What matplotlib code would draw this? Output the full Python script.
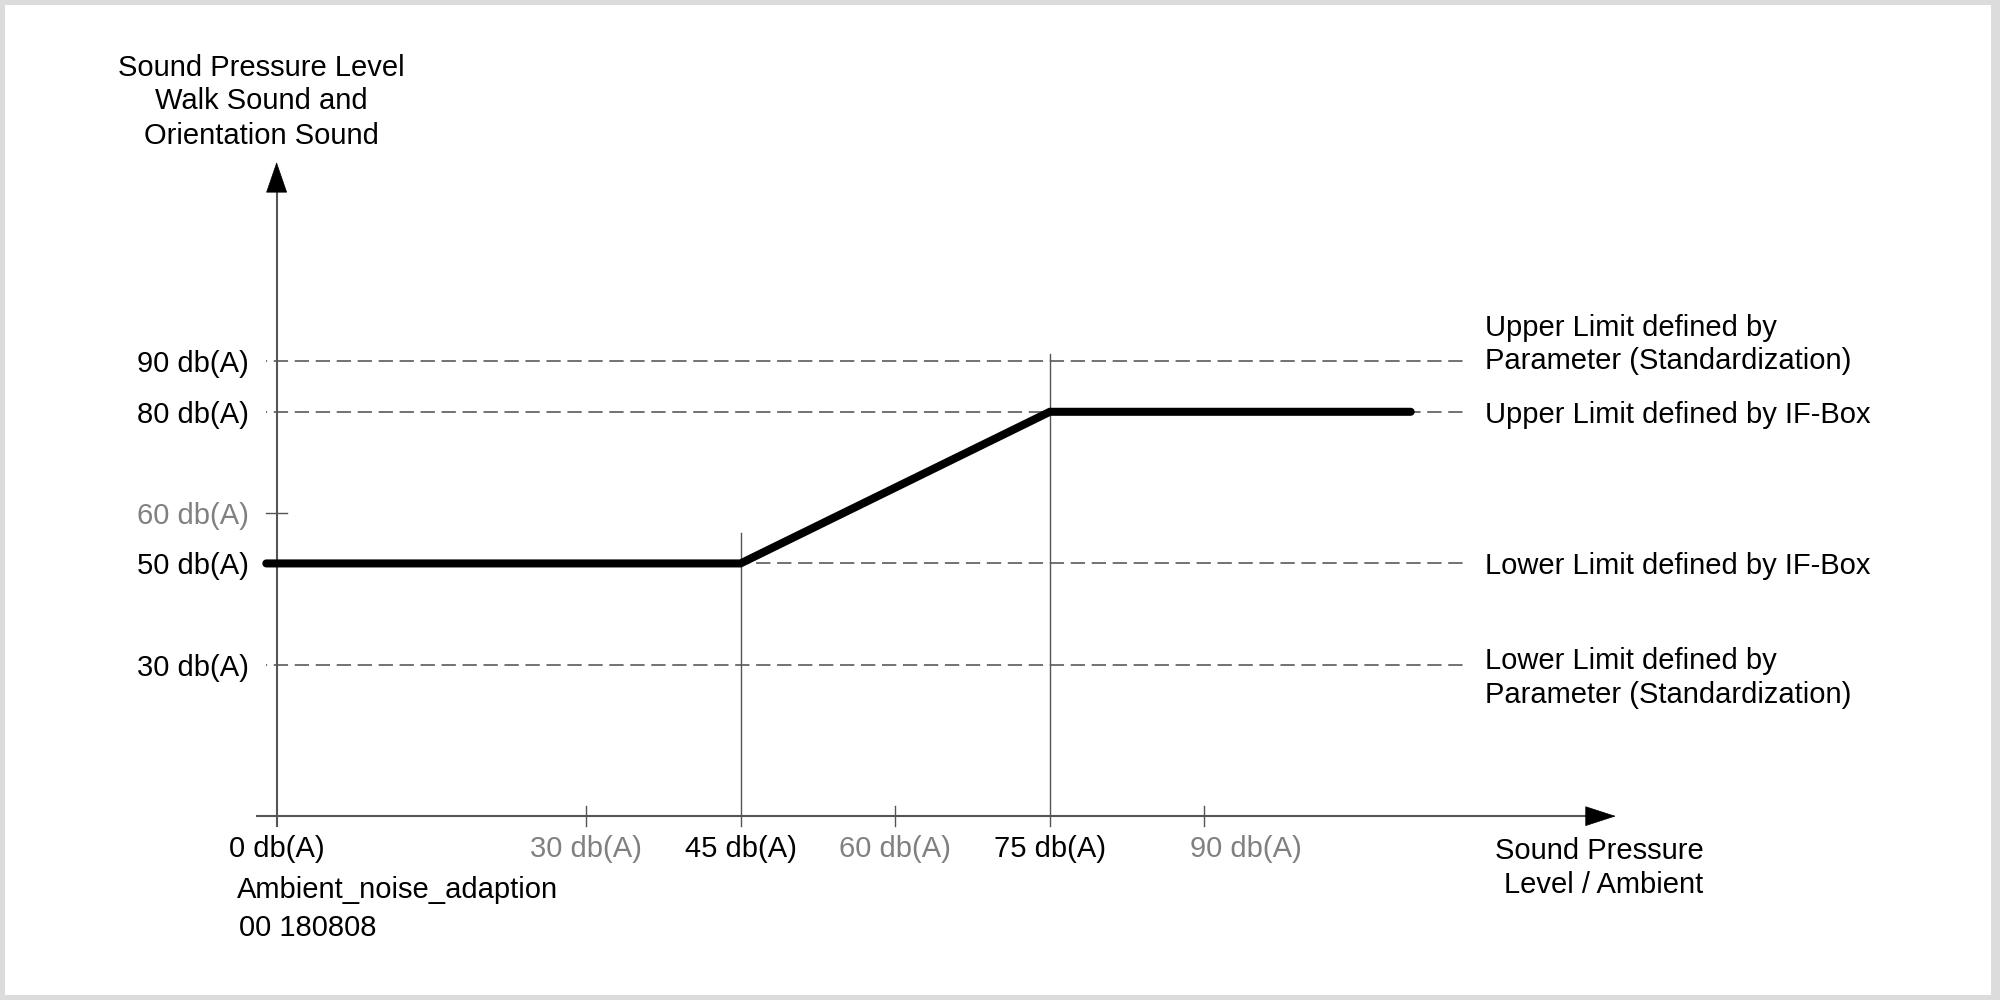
import matplotlib
matplotlib.use("Agg")
from matplotlib import pyplot as plt
from matplotlib.patches import Rectangle

plt.rcParams['font.family'] = ['Liberation Sans', 'DejaVu Sans']
plt.rcParams['lines.scale_dashes'] = False

# curve: walk / orientation sound level vs ambient level
curve_x = [-1, 45, 75, 110]
curve_y = [50, 50, 80, 80]

# limit levels (dashed lines)
levels = [90, 80, 50, 30]
level_labels = ["Upper Limit defined by\nParameter (Standardization)",
                "Upper Limit defined by IF-Box",
                "Lower Limit defined by IF-Box",
                "Lower Limit defined by\nParameter (Standardization)"]

# y tick labels
ytick_vals = [90, 80, 60, 50, 30]
ytick_labels = ["90 db(A)", "80 db(A)", "60 db(A)", "50 db(A)", "30 db(A)"]
ytick_grey = [False, False, True, False, False]

# x tick labels
xtick_vals = [0, 30, 45, 60, 75, 90]
xtick_labels = ["0 db(A)", "30 db(A)", "45 db(A)", "60 db(A)", "75 db(A)", "90 db(A)"]
xtick_grey = [False, True, False, True, False, True]

# knee points get tall vertical lines
knees = [45, 75]
knee_tops = [56, 91.4]

GREY = '#808080'
AX = '#555555'
FS = 21

fig = plt.figure(figsize=(20, 10), dpi=100, facecolor='#dcdcdc')
fig.add_artist(Rectangle((5/2000, 5/1000), 1986/2000, 990/1000,
                         transform=fig.transFigure, facecolor='white',
                         edgecolor='none', zorder=-10))

ax = fig.add_axes([0, 0, 1, 1])
ax.set_xlim(-26.83, 167.16)
ax.set_ylim(-36.37, 161.47)
ax.axis('off')

# dashed limit lines
for lv in levels:
    ax.plot([-1, 115.1], [lv, lv], color='#5a5a5a', lw=1.2,
            linestyle=(9.5, (10.3, 4.8)), zorder=1)

# axes
ax.plot([0, 0], [-2, 123.7], color=AX, lw=1.5, zorder=2)
ax.plot([-1.93, 127.0], [0, 0], color=AX, lw=1.5, zorder=2)
ax.annotate('', xy=(0, 129.4), xytext=(0, 123.7),
            arrowprops=dict(arrowstyle='-|>,head_length=1.45,head_width=0.5',
                            mutation_scale=14.4, color='black', lw=0.5,
                            shrinkA=0, shrinkB=0), zorder=3)
ax.annotate('', xy=(129.9, 0), xytext=(127.0, 0),
            arrowprops=dict(arrowstyle='-|>,head_length=1.45,head_width=0.47',
                            mutation_scale=14.4, color='black', lw=0.5,
                            shrinkA=0, shrinkB=0), zorder=3)

# knee verticals and small ticks
for k, top in zip(knees, knee_tops):
    ax.plot([k, k], [-2, top], color=AX, lw=1.0, zorder=2)
for t, g in zip(xtick_vals, xtick_grey):
    if g:
        ax.plot([t, t], [-2, 2], color=AX, lw=1.0, zorder=2)
ax.plot([-1.02, 1.02], [60, 60], color=AX, lw=1.0, zorder=2)

# main curve
ax.plot(curve_x, curve_y, color='black', lw=5.8, solid_capstyle='round',
        solid_joinstyle='miter', zorder=4)

# y tick labels
for v, lab, g in zip(ytick_vals, ytick_labels, ytick_grey):
    ax.text(-2.7, v, lab, ha='right', va='center_baseline', fontsize=FS,
            color=GREY if g else 'black')

# x tick labels (90 label sits a bit right of its tick)
for v, lab, g in zip(xtick_vals, xtick_labels, xtick_grey):
    xpos = v + 4.0 if v == 90 else v
    ax.text(xpos, -5.95, lab, ha='center', va='center_baseline', fontsize=FS,
            color=GREY if g else 'black')

# right side level labels, one text per line
line_pos = {90: [97.1, 90.6], 80: [80.0], 50: [50.1], 30: [31.3, 24.6]}
for lv, lab in zip(levels, level_labels):
    for yy, line in zip(line_pos[lv], lab.split('\n')):
        ax.text(117.2, yy, line, ha='left', va='center_baseline', fontsize=FS)

# y axis title
for yy, line in zip([148.6, 142.1, 135.2],
                    ["Sound Pressure Level", "Walk Sound and", "Orientation Sound"]):
    ax.text(-1.5, yy, line, ha='center', va='center_baseline', fontsize=FS)

# x axis title
for yy, line in zip([-6.35, -12.96], ["Sound Pressure", "Level / Ambient"]):
    ax.text(138.4, yy, line, ha='right', va='center_baseline', fontsize=FS)

# figure id
ax.text(-3.87, -14.0, "Ambient_noise_adaption", ha='left', va='center_baseline', fontsize=FS)
ax.text(-3.62, -21.5, "00 180808", ha='left', va='center_baseline', fontsize=FS)

fig.savefig('out.png', dpi=100, facecolor=fig.get_facecolor())
